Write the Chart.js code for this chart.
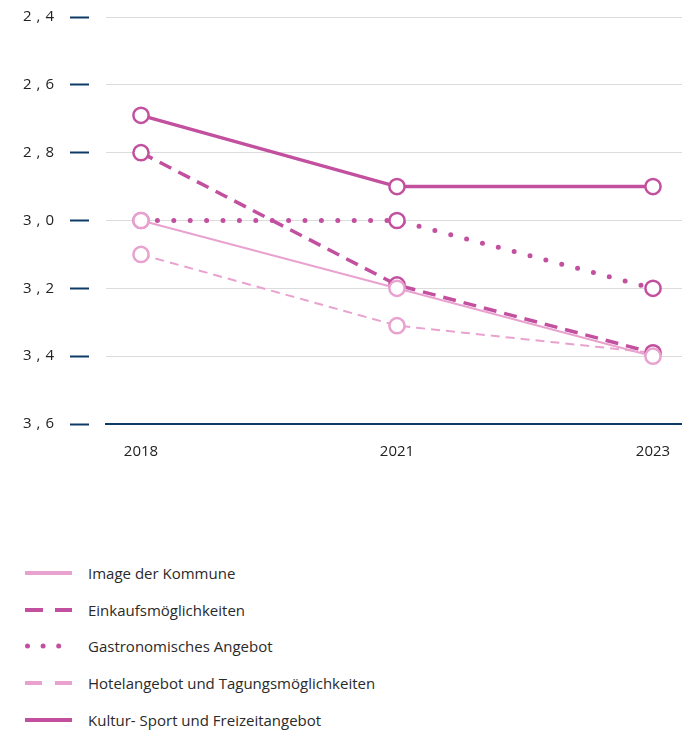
<!DOCTYPE html>
<html><head><meta charset="utf-8">
<script src="https://cdn.jsdelivr.net/npm/chart.js@4.4.0/dist/chart.umd.min.js"></script>
<style>
html,body{margin:0;padding:0;background:#fff;}
#wrap{position:relative;width:682px;height:731px;}
#cw{position:absolute;left:0;top:0;width:682px;height:470px;}
#legend{position:absolute;left:25px;top:555px;font-family:"Open Sans",sans-serif;font-weight:400;font-size:15px;color:#2a2a2a;}
.li{display:flex;align-items:center;height:36.6px;}
.li svg{margin-right:16px;}
</style></head>
<body>
<div id="wrap">
<div id="cw"><canvas id="c" width="682" height="470"></canvas></div>
<div id="legend"></div>
</div>
<script>
const categories = ["2018", "2021", "2023"];
const seriesNames = ["Image der Kommune", "Einkaufsmöglichkeiten", "Gastronomisches Angebot", "Hotelangebot und Tagungsmöglichkeiten", "Kultur- Sport und Freizeitangebot"];
const imageValues = [3.0, 3.2, 3.4];
const einkaufValues = [2.8, 3.19, 3.39];
const gastroValues = [3.0, 3.0, 3.2];
const hotelValues = [3.1, 3.31, 3.39];
const kulturValues = [2.69, 2.9, 2.9];
const yTicks = [2.4, 2.6, 2.8, 3.0, 3.2, 3.4, 3.6];

const DARK = "#c2509f";
const LIGHT = "#e9a2cf";
const NAVY = "#0e3a66";

const styles = [
  {color: LIGHT, width: 2, dash: [], cap: "butt", lg: {w: 4, dash: ""}},
  {color: DARK, width: 3.5, dash: [13, 8], cap: "butt", lg: {w: 4, dash: "18 12"}},
  {color: DARK, width: 5, dash: [0, 16.4], cap: "round", lg: {w: 5, dash: "0 15.6", cap: "round"}},
  {color: LIGHT, width: 2, dash: [9, 6], cap: "butt", lg: {w: 4, dash: "17 13"}},
  {color: DARK, width: 3.5, dash: [], cap: "butt", lg: {w: 4, dash: ""}}
];
const allValues = [imageValues, einkaufValues, gastroValues, hotelValues, kulturValues];

const datasets = allValues.map((vals, k) => ({
  label: seriesNames[k],
  data: vals.map((v, i) => ({x: i, y: v})),
  borderColor: styles[k].color,
  borderWidth: styles[k].width,
  borderDash: styles[k].dash,
  borderCapStyle: styles[k].cap,
  pointRadius: 7.6,
  pointHoverRadius: 7.6,
  pointBorderWidth: 2.5,
  pointBackgroundColor: "#fff",
  pointBorderColor: styles[k].color,
  tension: 0,
  fill: false
}));

const FONT = {family: "'Open Sans', sans-serif", size: 15, weight: 400};

new Chart(document.getElementById("c"), {
  type: "line",
  data: {datasets},
  options: {
    responsive: false,
    animation: false,
    events: [],
    layout: {autoPadding: false, padding: {top: 17, left: 0, right: 0, bottom: 0}},
    plugins: {legend: {display: false}, tooltip: {enabled: false}},
    scales: {
      x: {
        type: "linear",
        min: -35 / 256,
        max: 2 + 29 / 256,
        afterBuildTicks: s => { s.ticks = categories.map((c, i) => ({value: i})); },
        afterFit: s => { s.height = 46; s.paddingLeft = 0; s.paddingRight = 0; },
        grid: {display: false},
        border: {display: true, color: NAVY, width: 2},
        ticks: {padding: 11, color: "#222", font: FONT, callback: v => categories[v], maxRotation: 0, autoSkip: false}
      },
      y: {
        reverse: true,
        min: 2.4,
        max: 3.6,
        afterBuildTicks: s => { s.ticks = yTicks.map(v => ({value: v})); },
        afterFit: s => { s.width = 106; s.paddingTop = 0; s.paddingBottom = 0; },
        grid: {color: "#dcdcdc", lineWidth: 1, drawTicks: true, tickLength: 36, tickColor: NAVY, tickWidth: 2, tickBorderDash: [19, 60]},
        border: {display: false},
        ticks: {padding: 16, color: "#222", font: FONT, callback: v => v.toFixed(1).replace(".", "\u2004,\u2004")}
      }
    }
  }
});

const lg = document.getElementById("legend");
seriesNames.forEach((n, k) => {
  const s = styles[k];
  const row = document.createElement("div");
  row.className = "li";
  row.innerHTML = `<svg width="47" height="8" viewBox="0 0 47 8"><line x1="${s.lg.cap === 'round' ? 2.5 : 0}" y1="4" x2="47" y2="4" stroke="${s.color}" stroke-width="${s.lg.w}" stroke-dasharray="${s.lg.dash}" stroke-linecap="${s.lg.cap || 'butt'}"/></svg><span>${n}</span>`;
  lg.appendChild(row);
});
</script>
</body></html>
